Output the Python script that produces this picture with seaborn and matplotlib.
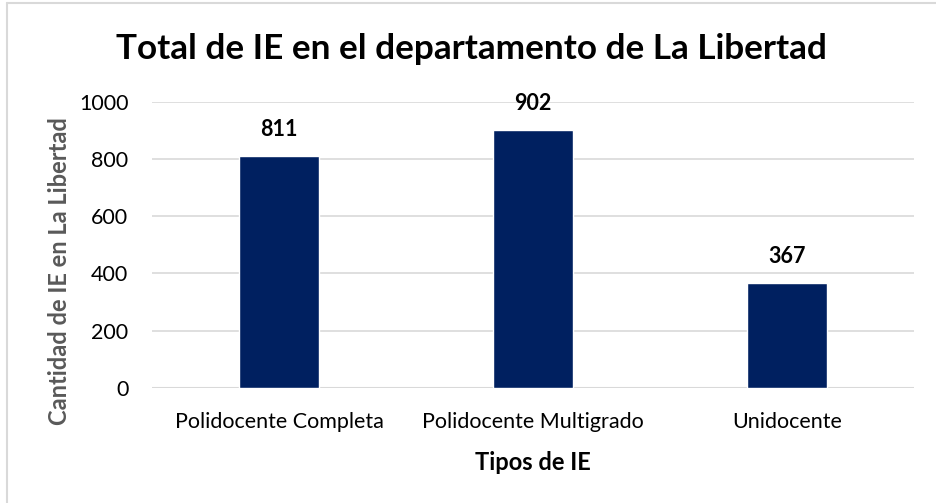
import matplotlib
matplotlib.use("Agg")
import matplotlib.pyplot as plt
from matplotlib.lines import Line2D
import pandas as pd
import seaborn as sns

# Chart data
tipos = ["Polidocente Completa", "Polidocente Multigrado", "Unidocente"]
cantidades = [811, 902, 367]
y_ticks = [0, 200, 400, 600, 800, 1000]

df = pd.DataFrame({"Tipo": tipos, "Cantidad": cantidades})

sns.set_theme(style="white")
plt.rcParams["font.family"] = ["Lato", "DejaVu Sans"]

fig = plt.figure(figsize=(9.36, 5.03), dpi=100)
ax = fig.add_axes([152 / 936, 1 - 388 / 503, (914 - 152) / 936, (388 - 101.7) / 503])

sns.barplot(data=df, x="Tipo", y="Cantidad", color="#002060", width=0.315,
            saturation=1, ax=ax, zorder=3)

ax.set_ylim(0, 1000)
ax.set_yticks(y_ticks)
ax.set_yticklabels([str(t) for t in y_ticks], fontsize=15.5, color="#000000")
ax.tick_params(axis="x", labelsize=15.5, colors="#000000", pad=17, length=0)
ax.tick_params(axis="y", pad=17, length=0)
ax.grid(axis="y", color="#d9d9d9", linewidth=1.2, zorder=0)
for side in ["top", "right", "left", "bottom"]:
    ax.spines[side].set_visible(False)
ax.axhline(0, color="#d9d9d9", linewidth=1.5, zorder=2)

for i, v in enumerate(cantidades):
    ax.text(i, v + 54, str(v), ha="center", va="bottom", fontsize=15.5,
            fontweight="bold", color="#000000")

ax.set_xlabel("Tipos de IE", fontsize=17, fontweight="bold", color="#000000")
ax.xaxis.set_label_coords(0.5, -0.259)
ax.set_ylabel("Cantidad de IE en La Libertad", fontsize=17, fontweight="bold",
              color="#595959")
ax.yaxis.set_label_coords(-0.121, 0.41)
ax.yaxis.label.set_va("center")
ax.xaxis.label.set_va("center")

fig.text(0.5 * (117 + 826) / 936, 1 - 49 / 503, "Total de IE en el departamento de La Libertad",
         ha="center", va="center", fontsize=25.3, fontweight="bold", color="#000000")

# Chart frame (left and top edges visible)
fig.add_artist(Line2D([7 / 936, 7 / 936], [0, 1 - 3 / 503], transform=fig.transFigure,
                      color="#d9d9d9", linewidth=1.5))
fig.add_artist(Line2D([7 / 936, 1], [1 - 3 / 503, 1 - 3 / 503], transform=fig.transFigure,
                      color="#d9d9d9", linewidth=1.5))

fig.savefig("out.png", dpi=100)
